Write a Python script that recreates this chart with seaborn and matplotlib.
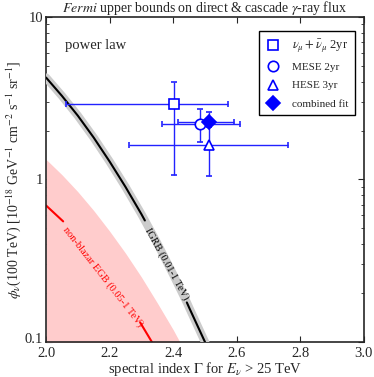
import numpy as np
import seaborn as sns
import matplotlib.pyplot as plt
import matplotlib.transforms as mtransforms

# IGRB (0.01-1 TeV) bound
igrb_gamma = [2.0, 2.05, 2.1, 2.15, 2.2, 2.25, 2.3, 2.311, 2.35, 2.4, 2.443, 2.45, 2.5, 2.55]
igrb_flux = [4.24, 3.27, 2.47, 1.81, 1.29, 0.90, 0.612, 0.559, 0.405, 0.260, 0.175, 0.163, 0.100, 0.060]

# non-blazar EGB (0.05-1 TeV) band upper edge and central line
egb_band_gamma = [2.0, 2.05, 2.1, 2.15, 2.2, 2.25, 2.3, 2.35, 2.4, 2.45]
egb_band_flux = [1.33, 1.07, 0.841, 0.644, 0.481, 0.352, 0.251, 0.174, 0.119, 0.0785]
egb_line_gamma = [2.0, 2.054, 2.296, 2.333, 2.37]
egb_line_flux = [0.692, 0.552, 0.132, 0.100, 0.0743]

# IceCube fits: best fit, gamma range, flux range
fit_labels = [r'$\nu_\mu + \bar{\nu}_\mu$ 2yr', 'MESE 2yr', 'HESE 3yr', 'combined fit']
fit_markers = ['s', 'o', '^', 'D']
fit_gamma = [2.404, 2.483, 2.513, 2.513]
fit_gamma_lo = [2.063, 2.364, 2.262, 2.414]
fit_gamma_hi = [2.573, 2.610, 2.761, 2.592]
fit_flux = [2.92, 2.20, 1.63, 2.25]
fit_flux_lo = [1.06, 1.71, 1.05, 2.11]
fit_flux_hi = [3.99, 2.70, 2.20, 2.60]

sns.set_style('ticks')
plt.rcParams['font.family'] = ['Liberation Serif', 'DejaVu Serif']
plt.rcParams['mathtext.fontset'] = 'stix'
plt.rcParams['xtick.direction'] = 'in'
plt.rcParams['ytick.direction'] = 'in'

fig = plt.figure(figsize=(3.74, 3.77), dpi=100)
ax = fig.add_axes([0.123, 0.093, 0.850, 0.862])

ax.set_yscale('log')

# pink band below the EGB bound
ax.fill_between(egb_band_gamma, 0.01, egb_band_flux, color='#ffcccc', lw=0, zorder=1)

# red line with a gap for its label
g = np.array(egb_line_gamma)
f = np.array(egb_line_flux)
sns.lineplot(x=g[g <= 2.054], y=f[g <= 2.054], color='red', lw=1.5, ax=ax, zorder=2)
sns.lineplot(x=g[g >= 2.296], y=f[g >= 2.296], color='red', lw=1.5, ax=ax, zorder=2)
ax.text(2.18, 0.25, 'non-blazar EGB (0.05-1 TeV)', color='red', fontsize=7.5,
        rotation=-52, ha='center', va='center', rotation_mode='anchor')

# IGRB: grey band with black line
sns.lineplot(x=igrb_gamma, y=igrb_flux, color='#cccccc', lw=6, ax=ax, zorder=3)
g = np.array(igrb_gamma)
f = np.array(igrb_flux)
sns.lineplot(x=g[g <= 2.311], y=f[g <= 2.311], color='black', lw=1.5, ax=ax, zorder=4)
sns.lineplot(x=g[g >= 2.443], y=f[g >= 2.443], color='black', lw=1.5, ax=ax, zorder=4)
ax.text(2.379, 0.30, 'IGRB (0.01-1 TeV)', color='black', fontsize=7.5,
        rotation=-61, ha='center', va='center', rotation_mode='anchor', zorder=5)

# data points
for i in range(4):
    xerr = [[fit_gamma[i] - fit_gamma_lo[i]], [fit_gamma_hi[i] - fit_gamma[i]]]
    yerr = [[fit_flux[i] - fit_flux_lo[i]], [fit_flux_hi[i] - fit_flux[i]]]
    face = 'blue' if fit_markers[i] == 'D' else 'white'
    ax.errorbar([fit_gamma[i]], [fit_flux[i]], xerr=xerr, yerr=yerr,
                fmt=fit_markers[i], color='#2222ff', mfc=face, mec='blue', mew=1.2,
                ms=7.5 if fit_markers[i] != 'D' else 7, elinewidth=1, capsize=2.5,
                capthick=1, label=fit_labels[i], zorder=6)

ax.set_xlim(2.0, 3.0)
ax.set_ylim(0.1, 10)
ax.set_xticks([2.0, 2.2, 2.4, 2.6, 2.8, 3.0])
ax.set_xticklabels(['2.0', '2.2', '2.4', '2.6', '2.8', '3.0'])
ax.set_yticks([0.1, 1, 10])
ax.set_yticklabels(['0.1', '1', '10'])
ax.tick_params(which='both', top=True, right=True, labelsize=10.5)
ax.tick_params(axis='x', pad=4)
ax.tick_params(axis='y', pad=2)
ax.tick_params(which='major', length=4)
ax.tick_params(which='minor', length=2)
for s in ax.spines.values():
    s.set_linewidth(1.2)
# nudge the bottom y label up a little so it clears "2.0"
lab = ax.get_yticklabels()[0]
lab.set_transform(lab.get_transform() + mtransforms.ScaledTranslation(0, 3 / 72, fig.dpi_scale_trans))

ax.text(0.06, 0.9, 'power law', transform=ax.transAxes, fontsize=10.5)

handles, labels = ax.get_legend_handles_labels()
handles = [h[0] for h in handles]
leg = ax.legend(handles, labels, loc='upper right', fontsize=8, fancybox=False,
                edgecolor='black', framealpha=1, borderpad=0.6, labelspacing=0.75,
                handletextpad=1.0, handlelength=1.4, bbox_to_anchor=(0.99, 0.975))
leg.get_frame().set_linewidth(1.0)
leg.get_texts()[0].set_fontsize(9)

ax.set_title(r'$\mathit{Fermi}$ upper bounds on direct & cascade $\gamma$-ray flux',
             fontsize=10, pad=2)
ax.set_xlabel(r'spectral index $\Gamma$ for $E_\nu$ > 25 TeV', fontsize=10.5, labelpad=0)
ax.set_ylabel(r'$\phi_\nu$(100 TeV) [10$^{-18}$ GeV$^{-1}$ cm$^{-2}$ s$^{-1}$ sr$^{-1}$]',
              fontsize=10, labelpad=1)

fig.savefig('out.png', dpi=100)
